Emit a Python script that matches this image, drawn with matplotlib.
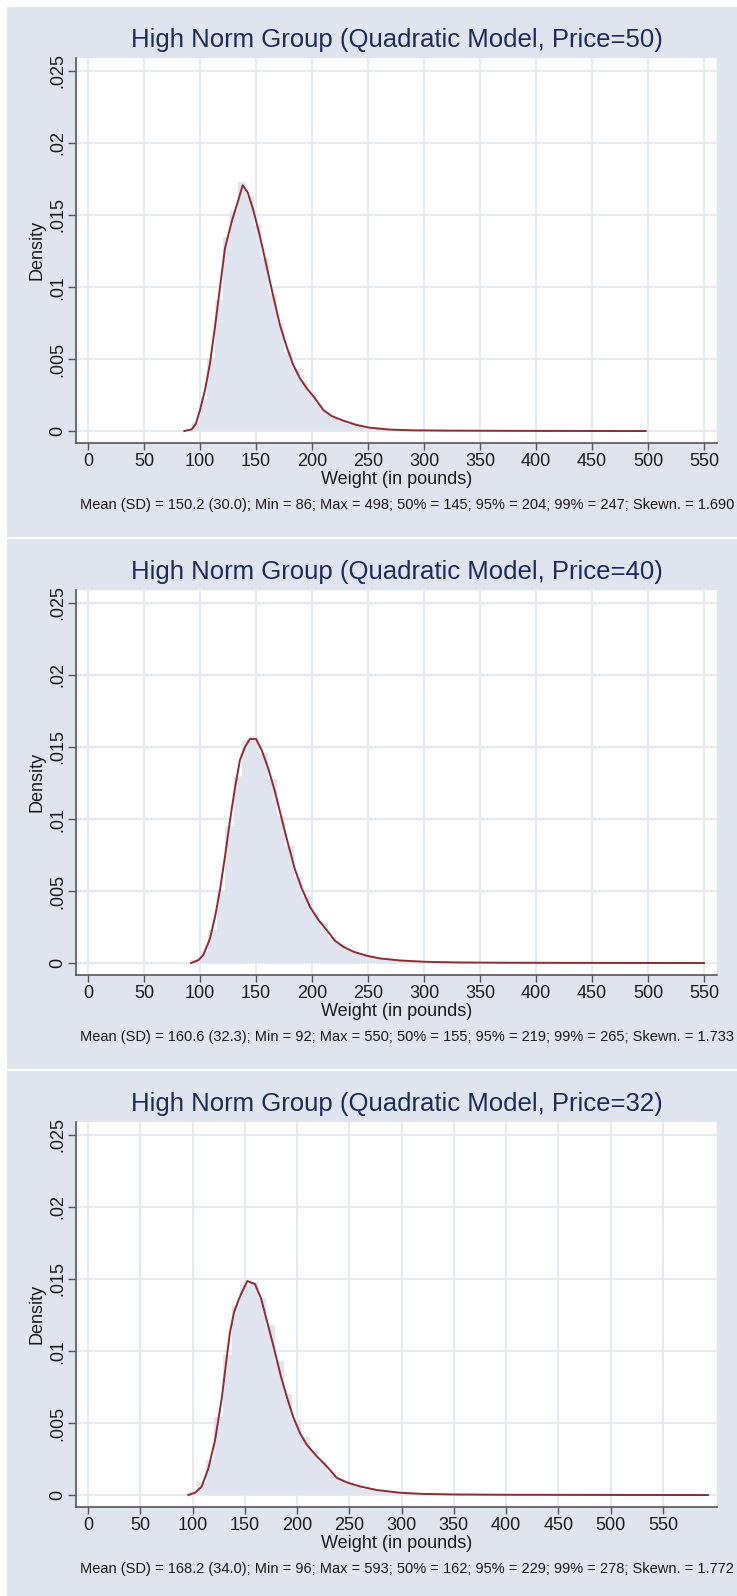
import matplotlib
matplotlib.use("Agg")
import matplotlib.pyplot as plt
from matplotlib.patches import Rectangle
import numpy as np

plt.rcParams['font.family'] = ['Liberation Sans', 'DejaVu Sans']

# ---------------- data ----------------
titles = ["High Norm Group (Quadratic Model, Price=50)",
          "High Norm Group (Quadratic Model, Price=40)",
          "High Norm Group (Quadratic Model, Price=32)"]
notes = ["Mean (SD) = 150.2 (30.0); Min = 86; Max = 498; 50% = 145; 95% = 204; 99% = 247; Skewn. = 1.690",
         "Mean (SD) = 160.6 (32.3); Min = 92; Max = 550; 50% = 155; 95% = 219; 99% = 265; Skewn. = 1.733",
         "Mean (SD) = 168.2 (34.0); Min = 96; Max = 593; 50% = 162; 95% = 229; 99% = 278; Skewn. = 1.772"]
x_label = "Weight (in pounds)"
y_label = "Density"
x_ticks = [0, 50, 100, 150, 200, 250, 300, 350, 400, 450, 500, 550]
y_ticks = [0, 0.005, 0.01, 0.015, 0.02, 0.025]
y_ticklabels = ["0", ".005", ".01", ".015", ".02", ".025"]

# histogram: data min, data max, bin heights (60 bins)
hist_min = [86, 92, 96]
hist_max = [498, 550, 593]
hist1 = [0.0001, 0.0006, 0.0022, 0.0051, 0.0091, 0.0135, 0.0153, 0.0173, 0.0163, 0.0143,
         0.0120, 0.0095, 0.0075, 0.0055, 0.0043, 0.0035, 0.0027, 0.0019, 0.0013, 0.0009,
         0.0007, 0.0005, 0.0004, 0.0003, 0.00025, 0.0002, 0.00015, 0.00012, 0.0001, 0.00008,
         0.00006, 0.00005, 0.00004, 0.00004, 0.00003, 0.00003, 0.00002, 0.00002, 0.00002, 0.00002,
         0.00002, 0.00001, 0.00001, 0.00001, 0.00001, 0.00001, 0.00001, 0.00001, 0.00001, 0.00001,
         0.00001, 0.00001, 0.00001, 0.00001, 0.00001, 0.00001, 0.00001, 0.00001, 0.00001, 0.00001]
hist2 = [0.0002, 0.0008, 0.0023, 0.0051, 0.0095, 0.0129, 0.0154, 0.0156, 0.0146, 0.0128,
         0.0102, 0.0081, 0.0060, 0.0046, 0.0035, 0.0028, 0.0018, 0.0013, 0.0009, 0.0007,
         0.0005, 0.0004, 0.0003, 0.00025, 0.0002, 0.00015, 0.00012, 0.0001, 0.00008, 0.00006,
         0.00005, 0.00004, 0.00004, 0.00003, 0.00003, 0.00002, 0.00002, 0.00002, 0.00002, 0.00002,
         0.00001, 0.00001, 0.00001, 0.00001, 0.00001, 0.00001, 0.00001, 0.00001, 0.00001, 0.00001,
         0.00001, 0.00001, 0.00001, 0.00001, 0.00001, 0.00001, 0.00001, 0.00001, 0.00001, 0.00001]
hist3 = [0.0002, 0.0009, 0.0024, 0.0054, 0.0097, 0.0132, 0.0146, 0.0148, 0.0137, 0.0118,
         0.0093, 0.0070, 0.0052, 0.0040, 0.0031, 0.0023, 0.0016, 0.0011, 0.0008, 0.0006,
         0.00045, 0.00035, 0.00025, 0.0002, 0.00015, 0.00012, 0.0001, 0.00008, 0.00006, 0.00005,
         0.00004, 0.00004, 0.00003, 0.00003, 0.00002, 0.00002, 0.00002, 0.00002, 0.00002, 0.00001,
         0.00001, 0.00001, 0.00001, 0.00001, 0.00001, 0.00001, 0.00001, 0.00001, 0.00001, 0.00001,
         0.00001, 0.00001, 0.00001, 0.00001, 0.00001, 0.00001, 0.00001, 0.00001, 0.00001, 0.00001]

# kernel density curves
kde1_x = [86, 92.6, 96.2, 100, 104.5, 108.9, 113.4, 117.9, 122.3, 128.3, 133.3, 138.1, 142.6,
          147.6, 153.6, 159.6, 165.5, 171.4, 177.4, 183.3, 189.3, 195.3, 202.7, 210.1, 217.6,
          228, 239.9, 251.8, 269.6, 290, 320, 360, 400, 450, 498]
kde1_y = [0.0, 0.00012, 0.00049, 0.00146, 0.00285, 0.0047, 0.00724, 0.0100, 0.01269, 0.01454,
          0.0158, 0.01706, 0.01657, 0.01535, 0.0135, 0.0114, 0.00933, 0.00736, 0.00585, 0.00458,
          0.00366, 0.00297, 0.00227, 0.00146, 0.00104, 0.00072, 0.00042, 0.00023, 0.00010,
          0.00005, 0.00003, 0.00002, 0.00001, 0.000005, 0.0]
kde2_x = [92, 98.5, 103, 108.9, 113.4, 117.9, 122.3, 126.8, 131.3, 135.7, 140.2, 144.6, 150,
          155, 161, 167, 173, 178.9, 184.8, 190.8, 198.2, 205.7, 213.1, 220.5, 228, 236.9,
          248.8, 260.7, 278.6, 300, 330, 380, 450, 550]
kde2_y = [0.0, 0.0002, 0.00056, 0.0017, 0.0032, 0.0051, 0.0074, 0.0099, 0.0122, 0.0141, 0.0150,
          0.01556, 0.01556, 0.0148, 0.0135, 0.0119, 0.0100, 0.0082, 0.0065, 0.0052, 0.0039,
          0.0030, 0.0023, 0.00155, 0.00113, 0.00079, 0.00051, 0.00032, 0.00018, 0.00009,
          0.00004, 0.00002, 0.00001, 0.0]
kde3_x = [96, 102.3, 108.7, 115.1, 121.5, 127.9, 132.6, 135.8, 139.7, 145.4, 152.4, 159.7,
          165.5, 171.5, 177.9, 184.3, 190.7, 196.4, 202.8, 209.2, 218.7, 228.3, 237.9, 247.4,
          260.2, 276.1, 298.4, 320, 350, 400, 480, 593]
kde3_y = [0.0, 0.00016, 0.00058, 0.00185, 0.0038, 0.0067, 0.0095, 0.0113, 0.0127, 0.0138,
          0.01486, 0.01465, 0.01366, 0.0120, 0.0102, 0.0083, 0.0067, 0.0054, 0.0043, 0.0035,
          0.0027, 0.0020, 0.0012, 0.00088, 0.0006, 0.00035, 0.00016, 0.00008, 0.00004,
          0.00002, 0.00001, 0.0]

hists = [hist1, hist2, hist3]
kdes = [(kde1_x, kde1_y), (kde2_x, kde2_y), (kde3_x, kde3_y)]
x_limits = [(-10.7, 561.6), (-10.7, 561.6), (-11.5, 601.7)]
y_limits = (-0.00083, 0.0259)

# ---------------- style ----------------
W, H = 737, 1596
BG = '#dfe4ee'
BAR = '#dfe4ef'
GRID = '#e3e7f0'
LINE = '#8e2c32'
TITLE = '#1b2c5c'
AXC = '#555555'

fig = plt.figure(figsize=(W / 100, H / 100), dpi=100)
fig.patch.set_facecolor('white')

def fx(px):
    return px / W

def fy(py):
    return 1 - py / H

PANEL = 532
for k in range(3):
    oy = PANEL * k
    top = oy + 7
    bot = min(oy + 537, H)
    fig.add_artist(Rectangle((fx(7), fy(bot)), fx(W) - fx(7), fy(top) - fy(bot),
                             transform=fig.transFigure, facecolor=BG, edgecolor='none', zorder=0))

    ax = fig.add_axes([fx(76), fy(oy + 443), fx(717) - fx(76), (443 - 58) / H])
    ax.set_facecolor('white')
    ax.set_zorder(2)

    n = len(hists[k])
    edges = np.linspace(hist_min[k], hist_max[k], n + 1)
    ax.bar(edges[:-1], hists[k], width=np.diff(edges), align='edge',
           color=BAR, edgecolor='none', zorder=1)
    ax.plot(kdes[k][0], kdes[k][1], color=LINE, lw=1.4, zorder=3)

    ax.set_xlim(*x_limits[k])
    ax.set_ylim(*y_limits)
    ax.set_xticks(x_ticks)
    ax.set_xticklabels([str(t) for t in x_ticks])
    ax.set_yticks(y_ticks)
    ax.set_yticklabels(y_ticklabels, rotation=90, va='center')
    ax.grid(True, color=GRID, lw=1.3)
    ax.set_axisbelow(True)
    for s in ['top', 'right']:
        ax.spines[s].set_visible(False)
    for s in ['left', 'bottom']:
        ax.spines[s].set_color(AXC)
        ax.spines[s].set_linewidth(1.2)
    ax.tick_params(axis='x', length=5, width=1, color=AXC, pad=2,
                   labelsize=13, labelcolor='#1a1a1a')
    ax.tick_params(axis='y', length=5.5, width=1, color=AXC, pad=1.5,
                   labelsize=13, labelcolor='#1a1a1a')

    fig.text(fx(396.5), fy(oy + 40), titles[k], ha='center', va='center',
             fontsize=18.5, color=TITLE)
    fig.text(fx(396.5), fy(oy + 480), x_label, ha='center', va='center',
             fontsize=13, color='#1a1a1a')
    fig.text(fx(37), fy(oy + 250), y_label, ha='center', va='center',
             rotation=90, fontsize=13, color='#1a1a1a', zorder=5)
    fig.text(fx(80), fy(oy + 505), notes[k], ha='left', va='center',
             fontsize=10.5, color='#1a1a1a')

fig.savefig('out.png', dpi=100)
